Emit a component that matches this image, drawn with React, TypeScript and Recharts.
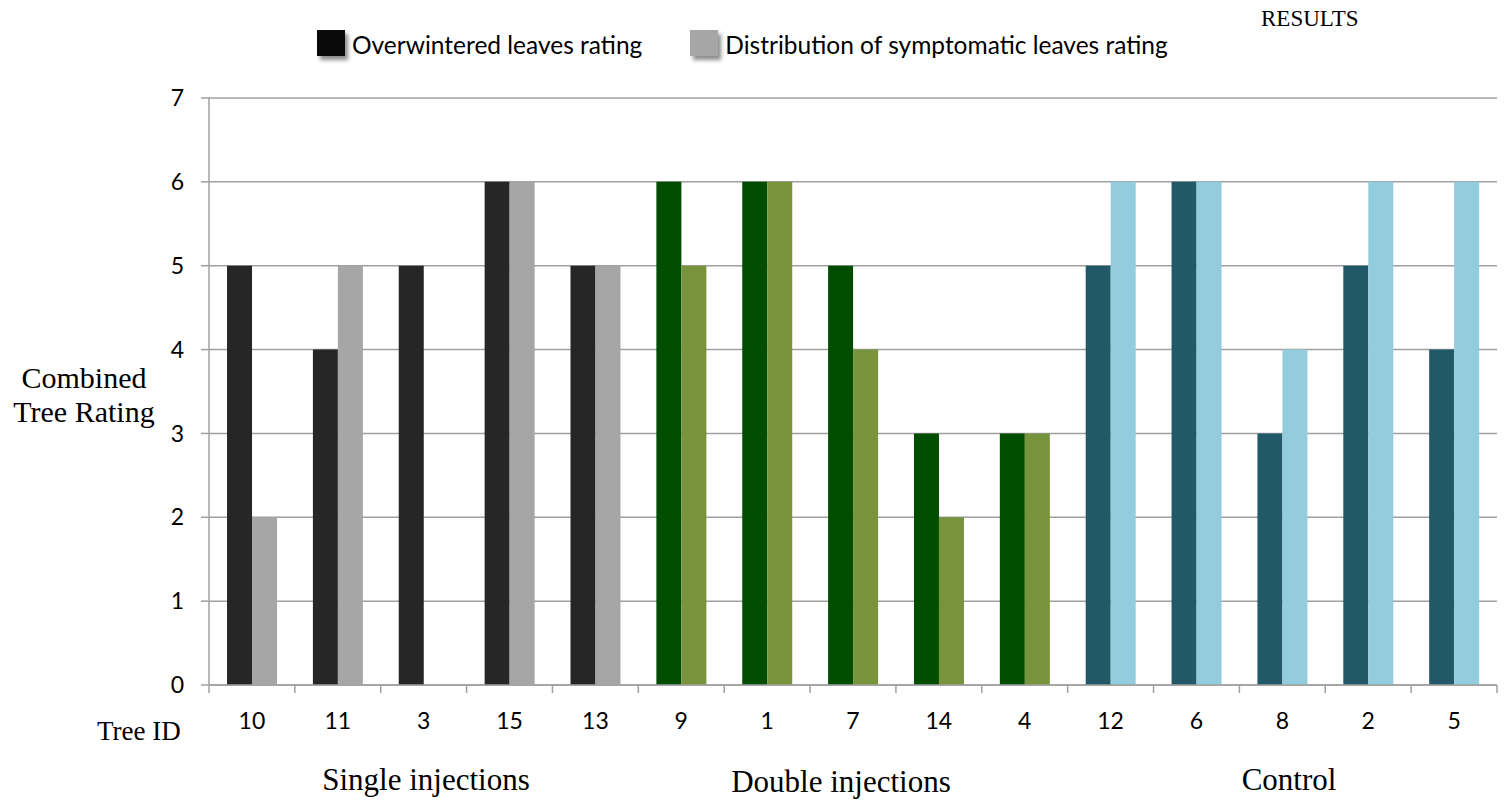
import React from 'react';
import { BarChart, Bar, XAxis, YAxis, CartesianGrid, Legend, Cell } from 'recharts';

// Tree IDs in plotted order, grouped by treatment
const treeIds = ['10', '11', '3', '15', '13', '9', '1', '7', '14', '4', '12', '6', '8', '2', '5'];
const treatmentOfTree = [0, 0, 0, 0, 0, 1, 1, 1, 1, 1, 2, 2, 2, 2, 2];
const treatmentNames = ['Single injections', 'Double injections', 'Control'];

// Ratings per tree
const overwinteredRating = [5, 4, 5, 6, 5, 6, 6, 5, 3, 3, 5, 6, 3, 5, 4];
const distributionRating = [2, 5, 0, 6, 5, 5, 6, 4, 2, 3, 6, 6, 4, 6, 6];

const yTicks = [0, 1, 2, 3, 4, 5, 6, 7];

// Dark / light shade for each treatment
const darkShades = ['#262626', '#004D00', '#215968'];
const lightShades = ['#A6A6A6', '#77933C', '#93CDDD'];

const seriesOrder = ['overwintered', 'distribution'];

const data = treeIds.map((id, i) => ({
  id,
  overwintered: overwinteredRating[i],
  distribution: distributionRating[i],
  treatment: treatmentOfTree[i],
}));

const W = 1509;
const H = 801;
const gridColor = '#A0A0A0';
const sansFont = 'Lato, "Open Sans", sans-serif';
const serifFont = '"Liberation Serif", "Times New Roman", serif';
const X_TICK_SIZE = 8;
const X_TICK_MARGIN = 20;

// Category labels centred under each tree, with tick marks on the category boundaries
const TreeTick = (props: any) => {
  const { x, y, payload, visibleTicksCount } = props;
  const half = payload?.offset ?? 0;
  const axisY = y - X_TICK_SIZE - X_TICK_MARGIN;
  const isLast = payload?.index === (visibleTicksCount ?? treeIds.length) - 1;
  return (
    <g>
      <line x1={x - half} x2={x - half} y1={axisY} y2={axisY + X_TICK_SIZE} stroke={gridColor} strokeWidth={1.5} />
      {isLast && (
        <line x1={x + half} x2={x + half} y1={axisY} y2={axisY + X_TICK_SIZE} stroke={gridColor} strokeWidth={1.5} />
      )}
      <text x={x} y={y} dy="0.71em" textAnchor="middle" fill="#000" fontSize={23} fontFamily={sansFont}>
        {payload.value}
      </text>
    </g>
  );
};

const renderLegend = (props: any) => {
  const items = [...(props.payload || [])].sort(
    (a: any, b: any) => seriesOrder.indexOf(a.dataKey) - seriesOrder.indexOf(b.dataKey)
  );
  return (
    <div style={{ display: 'flex', alignItems: 'center', fontFamily: sansFont, fontSize: 24.5, color: '#000' }}>
      {items.map((entry: any, idx: number) => (
        <div key={entry.value} style={{ display: 'flex', alignItems: 'center', marginRight: idx === 0 ? 48 : 0 }}>
          <span
            style={{
              display: 'inline-block',
              width: 28,
              height: 26,
              background: entry.color,
              boxShadow: '3px 4px 4px rgba(0,0,0,0.45)',
              marginRight: 7,
              position: 'relative',
              top: -2,
            }}
          />
          <span>{entry.value}</span>
        </div>
      ))}
    </div>
  );
};

const textStyle: React.CSSProperties = {
  position: 'absolute',
  fontFamily: serifFont,
  color: '#000',
  whiteSpace: 'nowrap',
  lineHeight: 1,
};

export default function App() {
  return (
    <div style={{ position: 'absolute', left: 0, top: 0, width: W, height: H, background: '#fff' }}>
      <BarChart
        width={W}
        height={H}
        data={data}
        margin={{ top: 98, right: 12, bottom: 76, left: 0 }}
        barGap={0}
        barCategoryGap="21%"
      >
        <CartesianGrid vertical={false} stroke={gridColor} strokeWidth={1.5} />
        <XAxis
          dataKey="id"
          height={40}
          axisLine={{ stroke: gridColor, strokeWidth: 1.5 }}
          tickLine={false}
          tickSize={X_TICK_SIZE}
          tickMargin={X_TICK_MARGIN}
          interval={0}
          tick={<TreeTick />}
        />
        <YAxis
          width={209}
          domain={[0, 7]}
          ticks={yTicks}
          interval={0}
          tickSize={8}
          tickMargin={17}
          axisLine={{ stroke: gridColor, strokeWidth: 1.5 }}
          tickLine={{ stroke: gridColor, strokeWidth: 1.5 }}
          tick={{ fill: '#000', fontSize: 23, fontFamily: sansFont }}
        />
        <Legend
          verticalAlign="middle"
          align="center"
          layout="horizontal"
          wrapperStyle={{ position: 'absolute', top: 30, left: 317, width: 'auto', height: 'auto' }}
          content={renderLegend}
        />
        <Bar dataKey="overwintered" name="Overwintered leaves rating" fill="#0A0A0A" isAnimationActive={false}>
          {data.map((d) => (
            <Cell key={`o-${d.id}`} fill={darkShades[d.treatment]} />
          ))}
        </Bar>
        <Bar dataKey="distribution" name="Distribution of symptomatic leaves rating" fill="#A6A6A6" isAnimationActive={false}>
          {data.map((d) => (
            <Cell key={`d-${d.id}`} fill={lightShades[d.treatment]} />
          ))}
        </Bar>
      </BarChart>

      <div style={{ ...textStyle, left: 1261, top: 7, fontSize: 23 }}>RESULTS</div>

      <div style={{ ...textStyle, left: 0, width: 168, top: 361, fontSize: 30, lineHeight: '34px', textAlign: 'center' }}>
        Combined
        <br />
        Tree Rating
      </div>

      <div style={{ ...textStyle, left: 97, top: 718, fontSize: 27 }}>Tree ID</div>

      <div style={{ ...textStyle, left: 426 - 200, width: 400, textAlign: 'center', top: 764, fontSize: 31 }}>
        {treatmentNames[0]}
      </div>
      <div style={{ ...textStyle, left: 841 - 200, width: 400, textAlign: 'center', top: 766, fontSize: 31 }}>
        {treatmentNames[1]}
      </div>
      <div style={{ ...textStyle, left: 1289 - 200, width: 400, textAlign: 'center', top: 764, fontSize: 31 }}>
        {treatmentNames[2]}
      </div>
    </div>
  );
}
